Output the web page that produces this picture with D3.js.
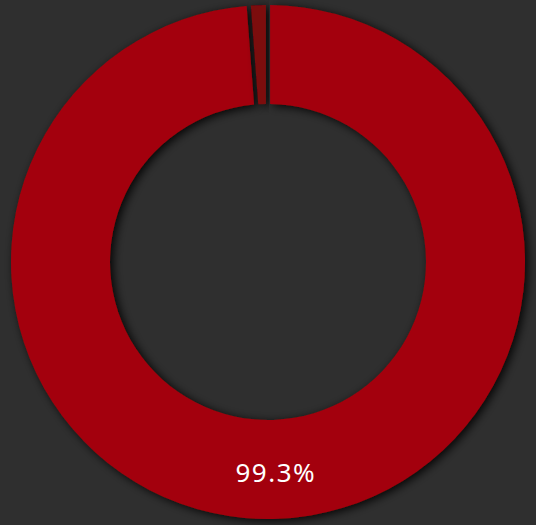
<!DOCTYPE html>
<html>
<head>
<meta charset="utf-8">
<script src="https://cdn.jsdelivr.net/npm/d3@7"></script>
<style>
  html, body { margin: 0; padding: 0; background: #2f2f2f; overflow: hidden; }
  .label { font-family: 'Noto Sans', sans-serif; font-size: 26px; font-weight: 400; fill: #fff; letter-spacing: 1.5px; }
</style>
</head>
<body>
<script>
// slice data
var categories = ['A', 'B'];
var values = [99.3, 0.7];
var colors = ['#a3040a', '#7c080b'];
// tiny slices are drawn at least this big so they stay visible
var minShare = 1.2;

var svgWidth = 536, svgHeight = 525;
var cx = 268, cy = 262;
var outerR = 257, innerR = 158;

var svg = d3.select('body')
  .append('svg')
  .attr('width', svgWidth)
  .attr('height', svgHeight);

var defs = svg.append('defs');
var filter = defs.append('filter')
  .attr('id', 'shadow')
  .attr('x', '-20%').attr('y', '-20%')
  .attr('width', '140%').attr('height', '140%');
filter.append('feDropShadow')
  .attr('dx', 3).attr('dy', 2)
  .attr('stdDeviation', 5)
  .attr('flood-color', '#000')
  .attr('flood-opacity', 0.9);

var data = categories.map(function(c, i){ return {cat: c, value: values[i]}; });

var pie = d3.pie()
  .sort(null)
  .value(function(d){ return Math.max(d.value, minShare); });

var arc = d3.arc()
  .innerRadius(innerR)
  .outerRadius(outerR)
  .padAngle(0.014);

var g = svg.append('g')
  .attr('transform', 'translate(' + cx + ',' + cy + ')');

var arcs = pie(data);

g.selectAll('path')
  .data(arcs)
  .enter()
  .append('path')
  .attr('d', arc)
  .attr('fill', function(d, i){ return colors[i]; })
  .attr('filter', 'url(#shadow)');

// only the big slice gets a label
g.selectAll('text')
  .data(arcs.filter(function(d){ return d.data.value > 5; }))
  .enter()
  .append('text')
  .attr('class', 'label')
  .attr('transform', function(d){ return 'translate(' + arc.centroid(d) + ')'; })
  .attr('text-anchor', 'middle')
  .attr('dy', '0.47em')
  .text(function(d){ return d.data.value.toFixed(1) + '%'; });
</script>
</body>
</html>
